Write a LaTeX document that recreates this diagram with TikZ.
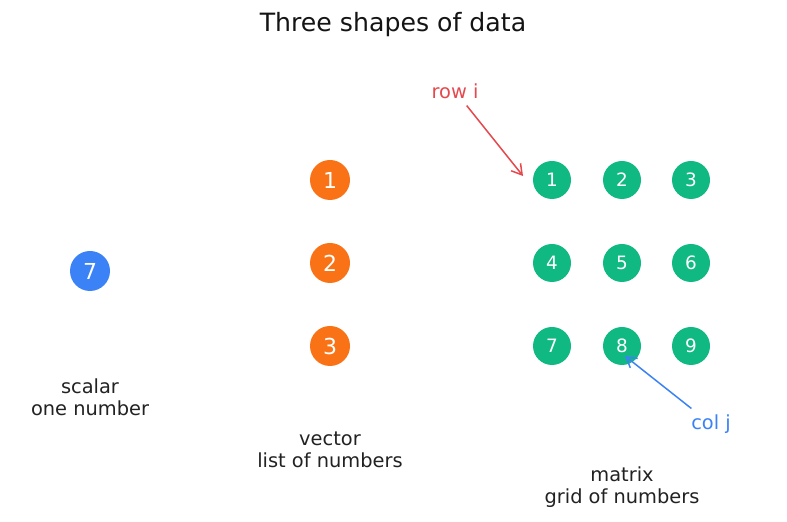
\documentclass[tikz,border=0pt]{standalone}
\usepackage{fontspec}
\setmainfont{DejaVu Sans}
\usetikzlibrary{arrows.meta}
\definecolor{scalarblue}{HTML}{3B82F6}
\definecolor{vecorange}{HTML}{F97316}
\definecolor{matgreen}{HTML}{10B981}
\definecolor{rowred}{HTML}{E5484D}
\definecolor{coltext}{HTML}{3B82F6}
\definecolor{labelgray}{HTML}{222222}

\begin{document}
\begin{tikzpicture}[
  x=0.5pt, y=-0.5pt,
  every node/.style={align=center, inner sep=1pt, text=labelgray, font=\fontsize{9.7}{11}\selectfont},
  dot/.style={circle, inner sep=0pt, minimum size=20pt, text=white},
  sdot/.style={dot, fill=scalarblue, font=\fontsize{11}{12}\selectfont},
  vdot/.style={dot, fill=vecorange, font=\fontsize{11}{12}\selectfont},
  mdot/.style={dot, fill=matgreen, minimum size=19pt, font=\fontsize{9.2}{11}\selectfont},
  pointer/.style={line width=0.75pt, -{Straight Barb[length=5pt,width=6pt]}}
]
  \useasboundingbox (0,0) rectangle (787,522);
  \node[font=\fontsize{12.6}{14}\selectfont, text=black!92] (title) at (393,25) {Three shapes of data};
  % scalar
  \node[sdot] (s) at (90,271) {7};
  \node (slbl) at (90,397) {scalar\\one number};
  % vector
  \node[vdot] (v1) at (330,180) {1};
  \node[vdot] (v2) at (330,263) {2};
  \node[vdot] (v3) at (330,346) {3};
  \node (vlbl) at (330,450) {vector\\list of numbers};
  % matrix
  \node[mdot] (m11) at (552,180) {1};
  \node[mdot] (m12) at (622,180) {2};
  \node[mdot] (m13) at (691,180) {3};
  \node[mdot] (m21) at (552,263) {4};
  \node[mdot] (m22) at (622,263) {5};
  \node[mdot] (m23) at (691,263) {6};
  \node[mdot] (m31) at (552,346) {7};
  \node[mdot] (m32) at (622,346) {8};
  \node[mdot] (m33) at (691,346) {9};
  \node (mlbl) at (622,487) {matrix\\grid of numbers};
  % pointers
  \node[text=rowred] (rowlbl) at (455,91) {row i};
  \coordinate (rowtip) at (523,176);
  \draw[pointer, draw=rowred, shorten <=3pt] (rowlbl) -- (rowtip);
  \node[text=coltext] (collbl) at (711,424) {col j};
  \coordinate (coltip) at (625,356);
  \draw[pointer, draw=coltext, shorten <=3pt] (collbl) -- (coltip);
\end{tikzpicture}
\end{document}
